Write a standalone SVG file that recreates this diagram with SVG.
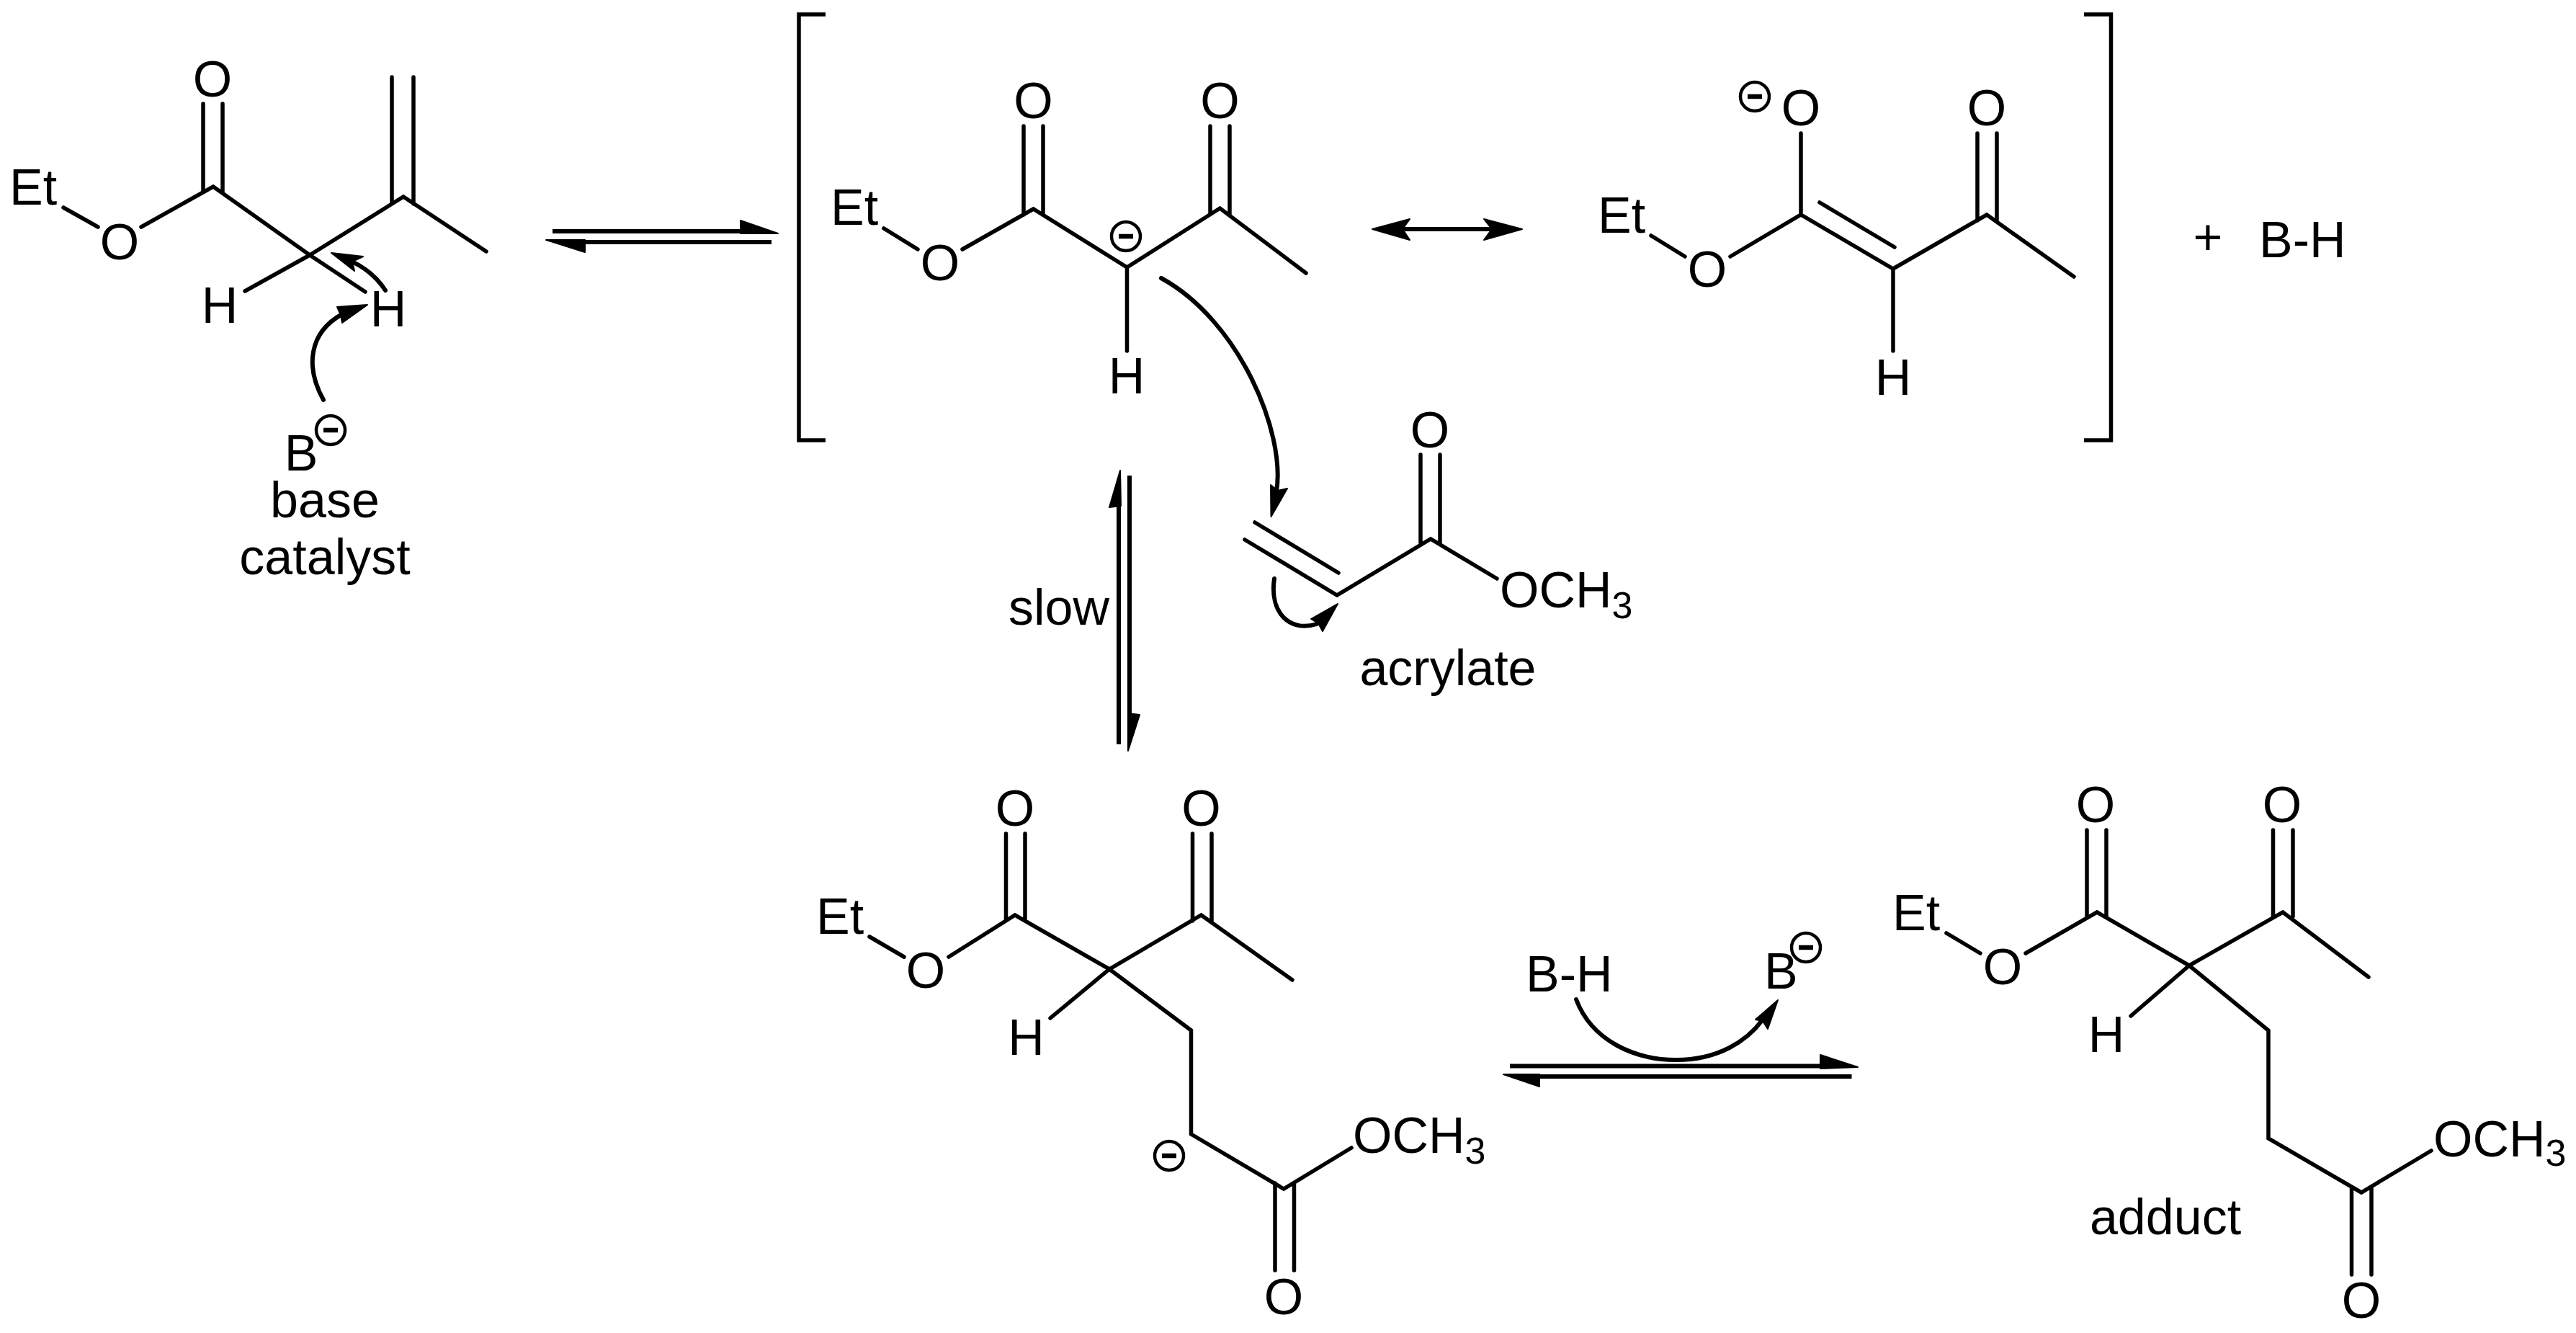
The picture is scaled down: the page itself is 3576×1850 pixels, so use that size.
<svg xmlns="http://www.w3.org/2000/svg" width="3576" height="1850" viewBox="0 0 3576 1850">
<defs>
<style>
text{font-family:"Liberation Sans",Arial,sans-serif;font-size:70px;fill:#000}
.m{text-anchor:middle}
.s{font-size:52px}
.b{fill:none;stroke:#000;stroke-width:5.500;stroke-linecap:round;stroke-linejoin:miter}
.w{fill:none;stroke:#000;stroke-width:6;stroke-linecap:butt}
.c{fill:none;stroke:#000;stroke-width:6;stroke-linecap:round}
.h{fill:#000;stroke:#000;stroke-width:2;stroke-linejoin:round}
.r{fill:#fff;stroke:#000;stroke-width:4.500}
.n{stroke:#000;stroke-width:6.500}
</style>
<g id="neg"><circle class="r" r="20"/><line class="n" x1="-10" x2="10" y1="0" y2="0"/></g>
</defs>
<rect width="3576" height="1850" fill="#fff"/>

<g id="reactant">
<path class="b" d="M88,288L136,315M196,315L296,259L430,354L560,273L675,349M282,144V267M309,144V268M544,107V282M574,107V283M430,354L340,404M430,354L507,405"/>
<text class="m" x="295" y="134">O</text>
<text x="13" y="284">Et</text>
<text class="m" x="166" y="360">O</text>
<text class="m" x="305" y="448">H</text>
<text class="m" x="539" y="453">H</text>
</g>

<g id="base">
<text class="m" x="418" y="653">B</text>
<use href="#neg" x="459" y="597"/>
<text class="m" x="451" y="718">base</text>
<text class="m" x="451" y="797">catalyst</text>
</g>

<g id="bracket-left"><path class="b" style="stroke-linecap:butt" d="M1146,20H1109V611H1146"/></g>
<g id="bracket-right"><path class="b" style="stroke-linecap:butt" d="M2893,20H2930.500V611H2893"/></g>

<g id="enolate">
<path class="b" d="M1227,317L1274,346M1336,346L1434.500,290L1564.500,371L1693.500,289L1813,379M1421,175V298M1448,175V297M1680,175V297M1707,175V298M1564.500,371V487"/>
<text class="m" x="1434.500" y="164">O</text>
<text class="m" x="1693.500" y="164">O</text>
<text x="1153" y="312">Et</text>
<text class="m" x="1305" y="389">O</text>
<text class="m" x="1564" y="546">H</text>
<use href="#neg" x="1563" y="328"/>
</g>

<g id="enolate-resonance">
<path class="b" d="M2292,327L2339,356M2402,356L2500,298L2628,373L2758,298L2879,384M2526,281L2630,343M2500,185V298M2745,185V306M2772,185V306M2628,373V487"/>
<text class="m" x="2500" y="174">O</text>
<text class="m" x="2758" y="174">O</text>
<text x="2218" y="323">Et</text>
<text class="m" x="2370" y="398">O</text>
<text class="m" x="2628" y="548">H</text>
<use href="#neg" x="2436" y="134"/>
</g>

<g id="byproduct">
<text class="m" x="3065" y="353">+</text>
<text x="3136" y="357">B-H</text>
</g>

<g id="acrylate">
<path class="b" d="M1728,749L1856,826L1986,748L2078,803M1742,725L1858,795M1972,631V753M1999,631V753"/>
<text class="m" x="1985" y="621">O</text>
<text x="2082" y="843">OCH<tspan class="s" dy="15">3</tspan></text>
<text class="m" x="2010" y="951">acrylate</text>
</g>

<g id="slow-label"><text class="m" x="1470" y="867">slow</text></g>

<g id="intermediate">
<path class="b" d="M1207,1300L1255,1328M1317,1328L1409,1270L1540,1345L1667.500,1270L1794,1360M1396.500,1157V1276M1423,1157V1278M1655.500,1157V1278M1682,1157V1278M1540,1345L1458,1413M1540,1345L1653.500,1430V1574L1782,1650L1876,1593M1770,1642V1763M1796.500,1642V1763"/>
<text class="m" x="1409" y="1146">O</text>
<text class="m" x="1667.500" y="1146">O</text>
<text x="1133" y="1296">Et</text>
<text class="m" x="1285" y="1371">O</text>
<text class="m" x="1424.500" y="1464">H</text>
<text x="1878" y="1600">OCH<tspan class="s" dy="15">3</tspan></text>
<text class="m" x="1782" y="1824">O</text>
<use href="#neg" x="1623" y="1604"/>
</g>

<g id="adduct">
<path class="b" d="M2702,1295L2749,1323M2812,1323L2911,1266L3039,1340L3169,1266L3288,1356M2897,1152V1272M2924,1152V1272M3155.500,1152V1272M3183,1152V1272M3039,1340L2958,1410M3039,1340L3149,1430V1580L3278,1655L3375,1597M3264.500,1647V1769M3292,1647V1769"/>
<text class="m" x="2909" y="1141">O</text>
<text class="m" x="3168" y="1141">O</text>
<text x="2627" y="1291">Et</text>
<text class="m" x="2780" y="1366">O</text>
<text class="m" x="2924" y="1460">H</text>
<text x="3378" y="1605">OCH<tspan class="s" dy="13">3</tspan></text>
<text class="m" x="3278" y="1829">O</text>
<text class="m" x="3006" y="1713">adduct</text>
</g>

<g id="catalysis">
<text x="2118" y="1376">B-H</text>
<text x="2449" y="1372">B</text>
<use href="#neg" x="2507" y="1315"/>
</g>

<g id="connectors">
<path class="w" d="M767,321H1030M813,336H1071"/>
<polygon class="h" points="1028,306 1080,324 1028,324"/>
<polygon class="h" points="758,333 812,333 812,350"/>

<path class="w" d="M1553,700V1033M1568,660V995"/>
<polygon class="h" points="1555,653 1540,704 1556,702"/>
<polygon class="h" points="1566,1042 1566,990 1582,992"/>

<path class="w" d="M2096,1479.500H2530M2135,1494H2570.500"/>
<polygon class="h" points="2527,1464 2579,1481 2527,1483"/>
<polygon class="h" points="2087,1491 2137,1491 2137,1508"/>

<path class="c" d="M1950,318H2068"/>
<polygon class="h" points="1905,318 1957,304 1947,318 1957,333"/>
<polygon class="h" points="2113,318 2060,304 2071,318 2060,333"/>

<path class="c" d="M535,403Q517,375 484,361"/>
<polygon class="h" points="460,351 504,356 489,363 492,376"/>
<path class="c" d="M449,555C424,510 428,462 475,436"/>
<polygon class="h" points="510,423 468,426 473,437 475,448"/>

<path class="c" d="M1612,386C1720,445 1785,600 1772,682"/>
<polygon class="h" points="1764.500,717 1764,673 1774,681 1787,678"/>
<path class="c" d="M1769,803C1762,850 1790,878 1828,866"/>
<polygon class="h" points="1857,838 1836,876 1830,865 1820,859"/>
<path class="c" d="M2188,1387C2210,1445 2270,1471 2327,1471C2385,1471 2425,1445 2447,1415"/>
<polygon class="h" points="2468,1388 2437,1415 2447,1417 2454,1428"/>
</g>
</svg>
